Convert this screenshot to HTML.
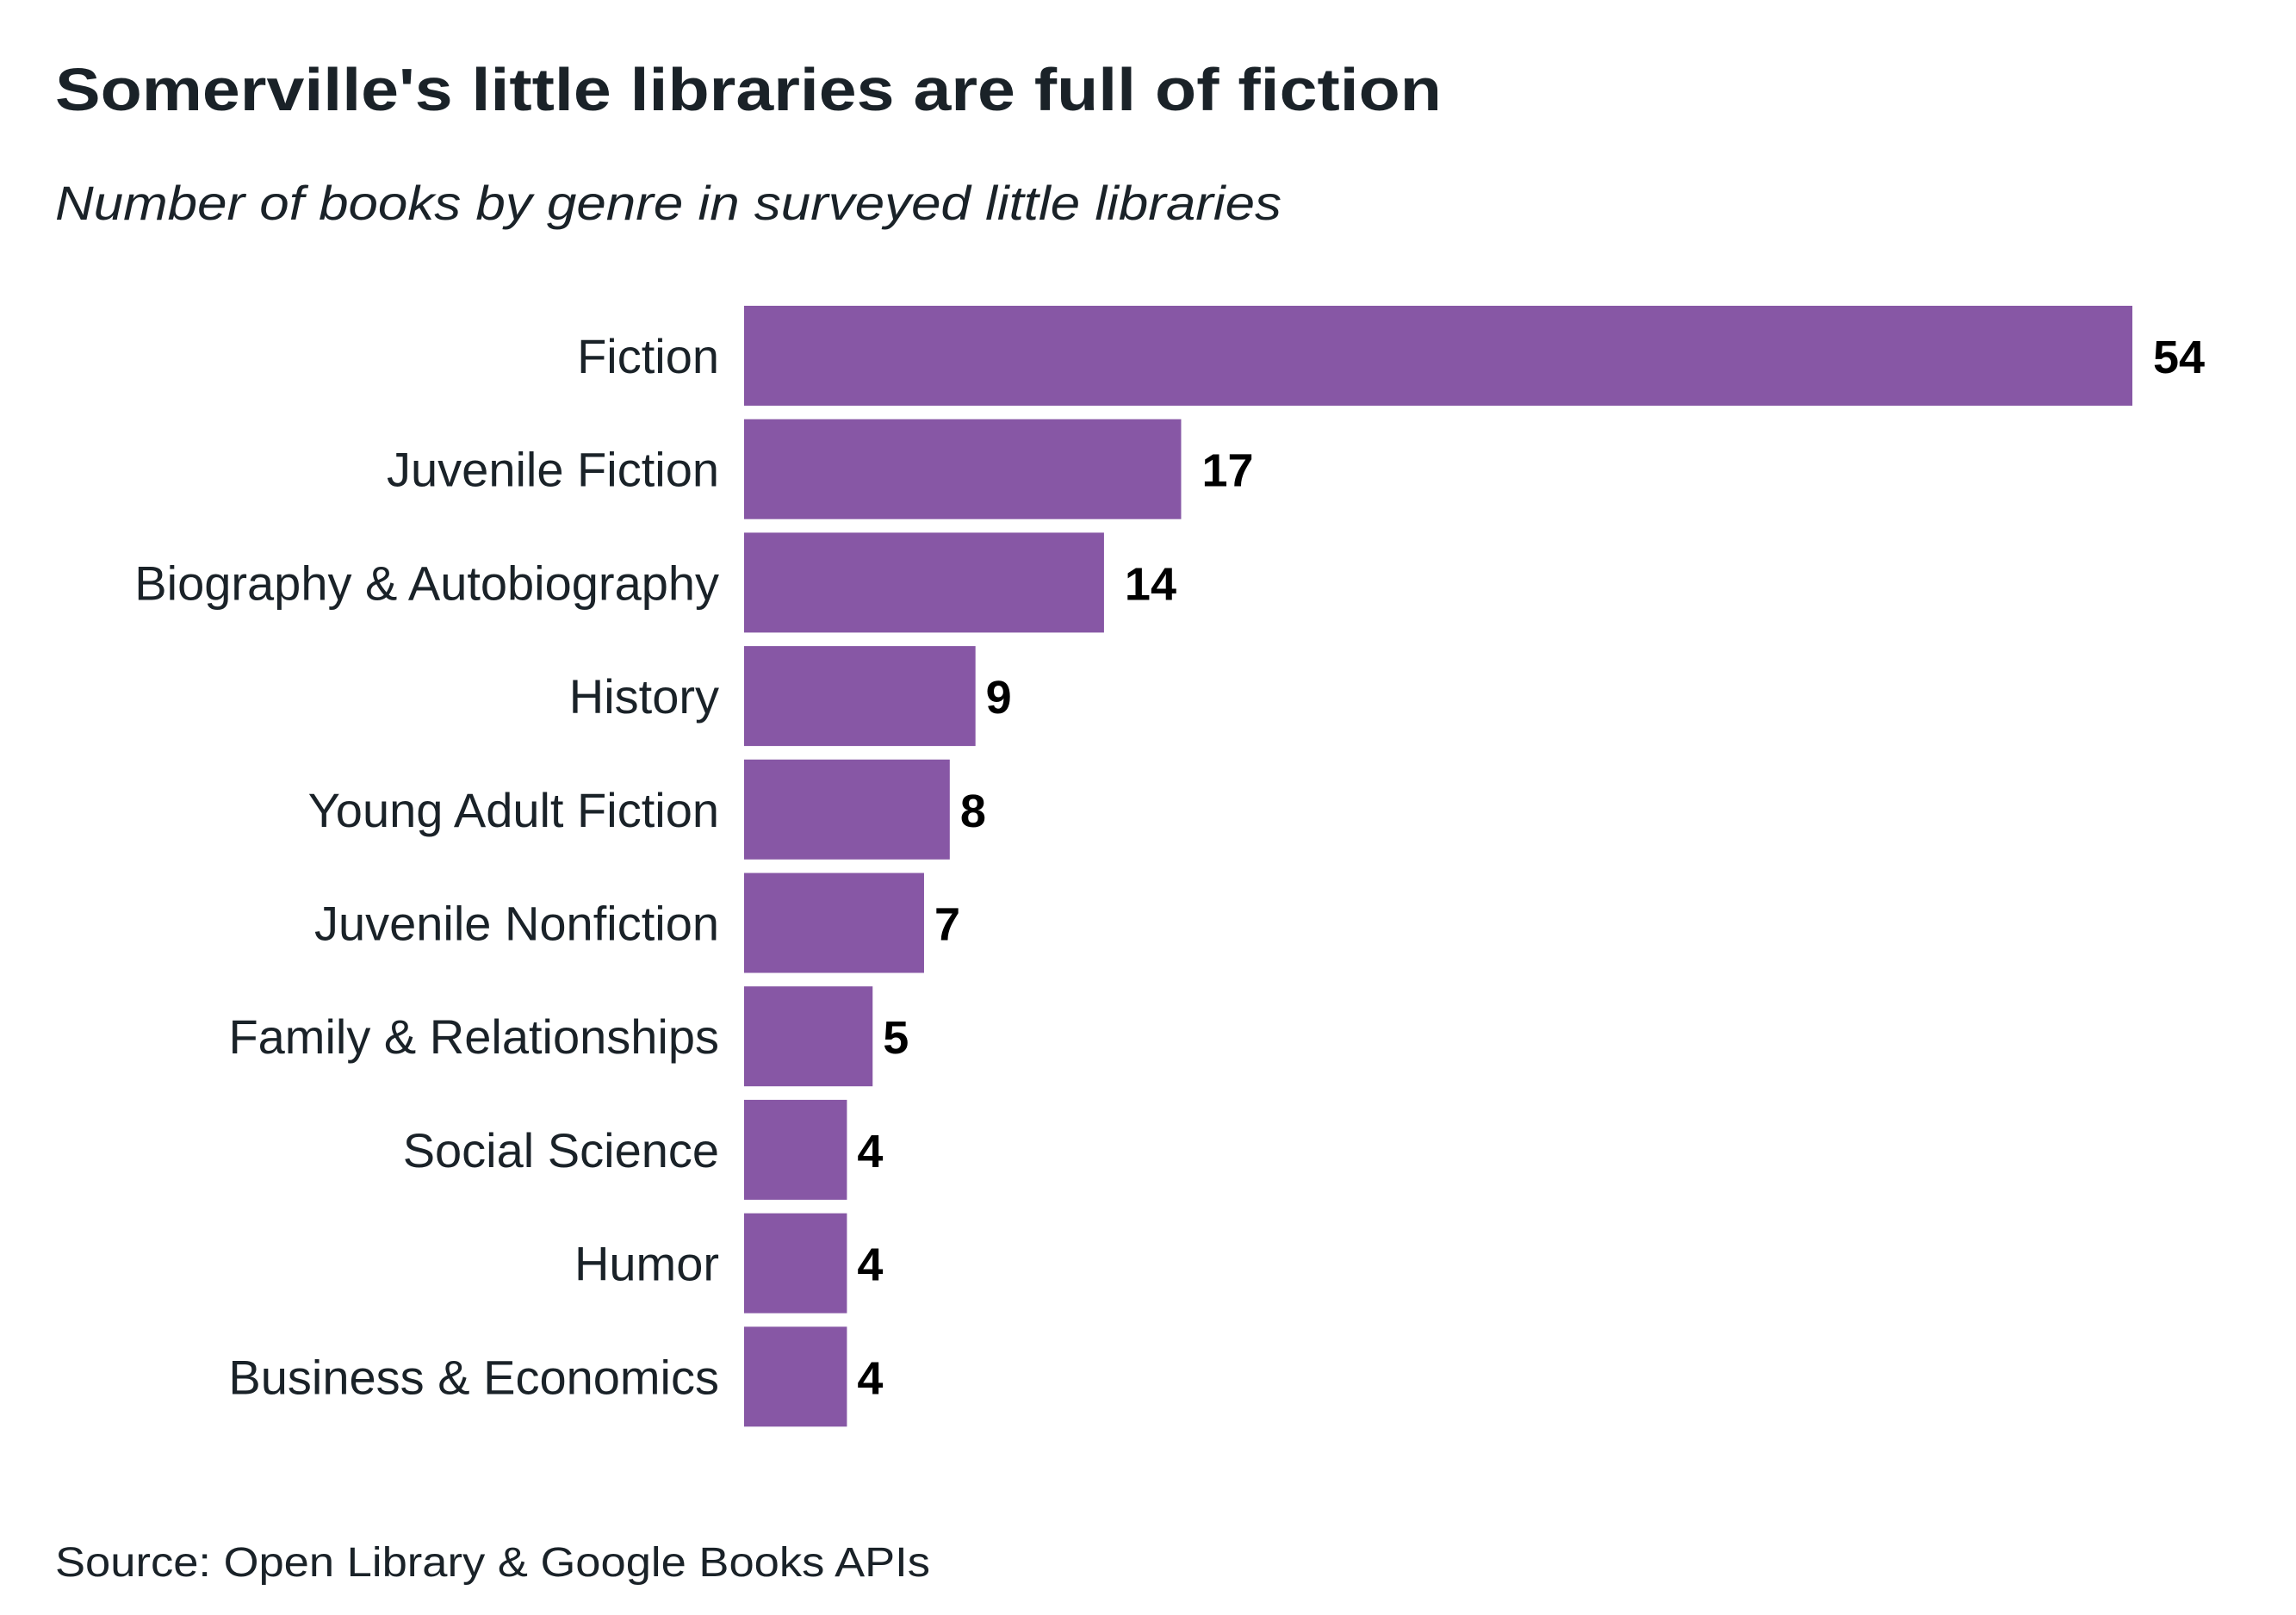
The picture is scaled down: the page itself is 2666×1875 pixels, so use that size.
<!DOCTYPE html>
<html><head><meta charset="utf-8"><style>
html,body{margin:0;padding:0;background:#fff;}
svg{display:block;font-family:"Liberation Sans",sans-serif;}
</style></head><body>
<svg id="chart" width="2666" height="1875" viewBox="0 0 2666 1875" xmlns="http://www.w3.org/2000/svg">
<rect width="2666" height="1875" fill="#fff"/>
<text x="64" y="128" font-size="70" font-weight="bold" fill="#1a2228" textLength="1610" lengthAdjust="spacingAndGlyphs">Somerville's little libraries are full of fiction</text>
<text x="64" y="255" font-size="56" font-style="italic" fill="#1a2228" textLength="1424" lengthAdjust="spacingAndGlyphs">Number of books by genre in surveyed little libraries</text>
<g id="bars"></g>
<text x="64" y="1830" font-size="48" fill="#1a2228" textLength="1016" lengthAdjust="spacingAndGlyphs">Source: Open Library &amp; Google Books APIs</text>
</svg>
<script>
const categories = ["Fiction","Juvenile Fiction","Biography & Autobiography","History","Young Adult Fiction","Juvenile Nonfiction","Family & Relationships","Social Science","Humor","Business & Economics"];
const values = [54,17,14,9,8,7,5,4,4,4];

const NS = "http://www.w3.org/2000/svg";
const x0 = 864, unit = (2476 - 864) / 54;
const top0 = 355, pitch = 131.7, barH = 116;
function xScale(v){ return x0 + v * unit; }
function yScale(i){ return top0 + i * pitch; }
const g = document.getElementById('bars');
categories.forEach((c, i) => {
  const v = values[i];
  const y = yScale(i);
  const r = document.createElementNS(NS, 'rect');
  
  
  r.setAttribute('x', x0);
  r.setAttribute('y', y);
  r.setAttribute('width', xScale(v) - x0);
  r.setAttribute('height', barH);
  r.setAttribute('fill', '#8757a5');
  g.appendChild(r);
  const t = document.createElementNS(NS, 'text');
  
  
  t.setAttribute('x', 835);
  t.setAttribute('y', y + barH / 2 + 20);
  t.setAttribute('text-anchor', 'end');
  t.setAttribute('font-size', '56');
  t.setAttribute('fill', '#1a2228');
  t.textContent = c;
  g.appendChild(t);
  const vl = document.createElementNS(NS, 'text');
  
  
  vl.setAttribute('x', xScale(v) + (v >= 10 ? 24 : 12));
  vl.setAttribute('y', y + barH / 2 + 20);
  vl.setAttribute('font-size', '54');
  vl.setAttribute('font-weight', 'bold');
  vl.setAttribute('fill', '#000');
  vl.textContent = v;
  g.appendChild(vl);
});
</script>
</body></html>
